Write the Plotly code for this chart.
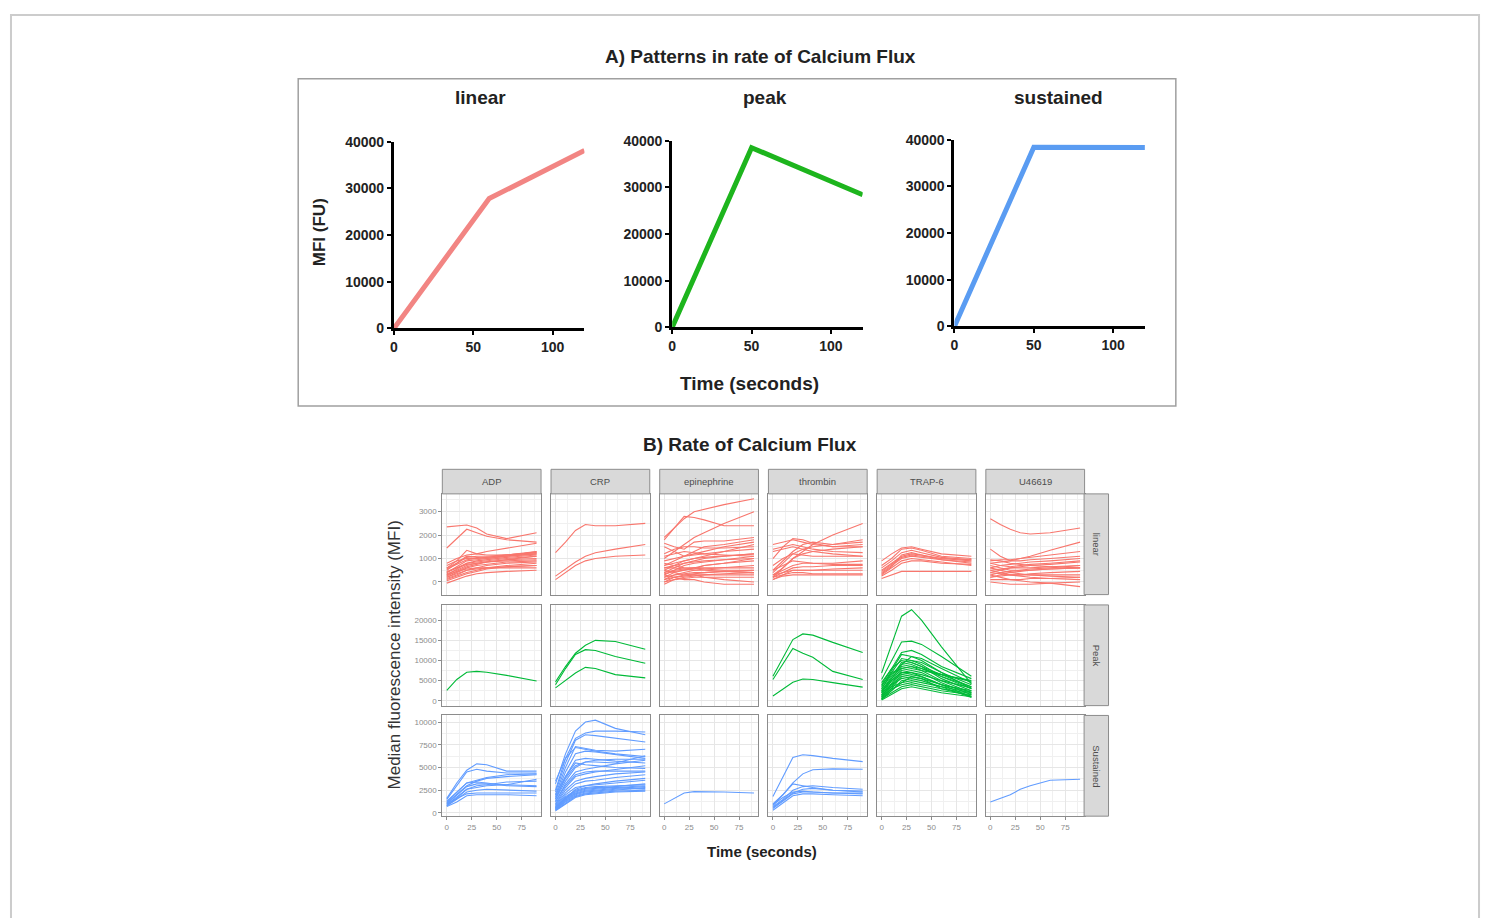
import plotly.graph_objects as go

W, H = 1485, 918

# ---------------- Panel A data ----------------
A_TITLES = ["linear", "peak", "sustained"]
A_TIME_LINEAR = [0, 60, 120]
A_MFI_LINEAR = [0, 27800, 38100]
A_TIME_PEAK = [0, 50, 120]
A_MFI_PEAK = [0, 38500, 28400]
A_TIME_SUSTAINED = [0, 50, 120]
A_MFI_SUSTAINED = [0, 38400, 38300]
A_XTICKS = [0, 50, 100]
A_YTICKS = [0, 10000, 20000, 30000, 40000]
A_COLORS = ["#F28583", "#1DB51D", "#5A9CF2"]

# ---------------- Panel B data ----------------
AGONISTS = ["ADP", "CRP", "epinephrine", "thrombin", "TRAP-6", "U46619"]
PATTERNS = ["linear", "Peak", "Sustained"]
B_COLORS = ["#F8766D", "#00BA38", "#619CFF"]
TIME_B = [0, 10, 20, 30, 40, 60, 90]
B_XTICKS = [0, 25, 50, 75]
B_YTICKS_LINEAR = [0, 1000, 2000, 3000]
B_YTICKS_PEAK = [0, 5000, 10000, 15000, 20000]
B_YTICKS_SUSTAINED = [0, 2500, 5000, 7500, 10000]

ADP_LINEAR = [
    [2350, 2380, 2430, 2300, 2050, 1850, 2100],
    [1450, 1850, 2250, 2100, 1950, 1800, 1700],
    [800, 1000, 1150, 1200, 1300, 1450, 1650],
    [600, 900, 1350, 1200, 1150, 1150, 1250],
    [500, 800, 1100, 1050, 1000, 1100, 1200],
    [400, 650, 900, 950, 1000, 1100, 1300],
    [300, 550, 800, 900, 950, 1050, 1150],
    [350, 500, 700, 800, 850, 950, 1100],
    [250, 450, 650, 750, 850, 950, 1000],
    [200, 400, 600, 700, 750, 850, 900],
    [450, 600, 750, 800, 850, 900, 950],
    [150, 300, 500, 600, 700, 800, 850],
    [100, 250, 400, 500, 600, 700, 800],
    [50, 200, 350, 450, 550, 650, 700],
    [-50, 100, 250, 350, 400, 450, 500],
    [300, 450, 550, 600, 600, 600, 600],
    [700, 900, 1000, 1000, 1050, 1100, 1200],
    [550, 750, 950, 1000, 1050, 1150, 1300],
    [400, 600, 800, 850, 900, 1000, 1100],
    [200, 350, 500, 550, 600, 650, 700],
    [600, 800, 1050, 1100, 1100, 1150, 1250],
]
CRP_LINEAR = [
    [1250, 1700, 2200, 2450, 2400, 2400, 2500],
    [250, 550, 850, 1100, 1250, 1400, 1600],
    [100, 400, 700, 900, 1000, 1100, 1150],
]
EPINEPHRINE_LINEAR = [
    [1900, 2300, 2700, 3000, 3100, 3300, 3550],
    [1800, 2300, 2800, 2750, 2650, 2400, 2400],
    [1000, 1300, 1600, 1900, 2100, 2500, 3000],
    [1650, 1500, 1400, 1700, 1750, 1750, 1900],
    [1500, 1300, 1100, 1300, 1500, 1600, 1800],
    [1200, 1400, 1500, 1500, 1450, 1450, 1500],
    [700, 900, 1100, 1200, 1300, 1500, 1700],
    [500, 700, 900, 1000, 1100, 1300, 1600],
    [400, 600, 800, 900, 1000, 1100, 1200],
    [300, 500, 700, 800, 850, 950, 1100],
    [600, 700, 800, 850, 900, 950, 1000],
    [200, 400, 500, 600, 700, 800, 900],
    [100, 300, 400, 500, 550, 600, 700],
    [0, 200, 300, 350, 400, 450, 500],
    [-100, 100, 200, 250, 300, 350, 400],
    [300, 200, 100, 100, 0, -100, -100],
    [500, 400, 300, 300, 200, 100, 0],
    [800, 700, 600, 600, 550, 500, 500],
    [400, 500, 550, 600, 600, 600, 600],
    [200, 300, 350, 400, 400, 450, 400],
    [700, 800, 900, 1000, 1050, 1100, 1200],
    [900, 1000, 1100, 1150, 1200, 1300, 1400],
    [100, 200, 250, 300, 300, 300, 300],
    [600, 600, 550, 500, 500, 450, 400],
    [350, 450, 500, 550, 700, 800, 1000],
    [0, 100, 150, 200, 200, 200, 200],
    [1100, 1200, 1300, 1250, 1200, 1150, 1100],
]
THROMBIN_LINEAR = [
    [300, 600, 1000, 1300, 1600, 2000, 2500],
    [1000, 1500, 1850, 1800, 1650, 1500, 1500],
    [1600, 1700, 1800, 1700, 1600, 1500, 1600],
    [1400, 1500, 1600, 1500, 1400, 1300, 1250],
    [500, 900, 1300, 1600, 1700, 1600, 1700],
    [400, 800, 1200, 1400, 1500, 1600, 1800],
    [200, 600, 1000, 1200, 1300, 1400, 1500],
    [300, 500, 700, 800, 800, 800, 900],
    [200, 400, 600, 650, 650, 700, 700],
    [100, 300, 500, 500, 500, 550, 600],
    [300, 400, 500, 500, 500, 500, 500],
    [200, 300, 400, 400, 350, 350, 350],
    [100, 250, 300, 300, 300, 300, 300],
    [500, 700, 900, 850, 800, 750, 750],
    [700, 1000, 1200, 1150, 1100, 1100, 1100],
    [1300, 1400, 1500, 1400, 1300, 1200, 1100],
]
TRAP6_LINEAR = [
    [900, 1200, 1450, 1500, 1400, 1200, 1100],
    [700, 1000, 1400, 1450, 1350, 1100, 1000],
    [600, 900, 1250, 1350, 1250, 1050, 950],
    [500, 800, 1100, 1200, 1150, 1000, 900],
    [400, 700, 1000, 1100, 1050, 950, 800],
    [300, 600, 900, 1000, 950, 850, 700],
    [150, 300, 450, 450, 450, 450, 450],
    [350, 650, 1150, 1250, 1150, 950, 850],
    [450, 750, 1050, 1150, 1100, 1000, 950],
    [250, 500, 800, 900, 900, 800, 750],
]
U46619_LINEAR = [
    [2700, 2450, 2250, 2100, 2050, 2100, 2300],
    [1400, 1100, 900, 1000, 1100, 1350, 1700],
    [900, 950, 950, 1000, 1050, 1150, 1300],
    [800, 850, 900, 900, 950, 1000, 1100],
    [600, 700, 750, 800, 850, 900, 1000],
    [400, 500, 600, 650, 700, 750, 850],
    [300, 400, 450, 500, 550, 600, 700],
    [700, 600, 500, 500, 500, 550, 600],
    [500, 400, 300, 300, 350, 400, 450],
    [200, 250, 300, 300, 300, 300, 300],
    [100, 100, 100, 100, 150, 150, 200],
    [0, -50, -100, -100, -100, -50, 0],
    [300, 200, 100, 50, 0, -50, -200],
    [600, 500, 400, 350, 300, 250, 200],
    [800, 700, 650, 700, 750, 800, 900],
    [500, 550, 600, 600, 600, 650, 700],
    [950, 900, 800, 750, 700, 650, 600],
    [200, 300, 400, 450, 500, 550, 600],
    [400, 350, 300, 250, 200, 150, 100],
]

ADP_PEAK = [
    [2600, 5300, 7100, 7300, 7100, 6300, 4900],
]
CRP_PEAK = [
    [4700, 8500, 11800, 13800, 15000, 14700, 12800],
    [4000, 8000, 11500, 12700, 12500, 11000, 9300],
    [3200, 5000, 6900, 8300, 8000, 6500, 5700],
]
EPINEPHRINE_PEAK = []
THROMBIN_PEAK = [
    [6100, 10500, 15200, 16600, 16300, 14500, 12000],
    [5300, 9000, 13000, 11800, 10800, 7300, 5300],
    [1200, 3000, 4600, 5400, 5300, 4500, 3400],
]
TRAP6_PEAK = [
    [6900, 14000, 21000, 22600, 20000, 13400, 4200],
    [5300, 10000, 14600, 14800, 14000, 11000, 6100],
    [4000, 8000, 12000, 12500, 11500, 8500, 5500],
    [3500, 7500, 11500, 11000, 10000, 7000, 4000],
    [3000, 7000, 10500, 10000, 9000, 6000, 3500],
    [2500, 6000, 9500, 10000, 9500, 7000, 3000],
    [2000, 5500, 9000, 9500, 8500, 5500, 2500],
    [1500, 5000, 8000, 8500, 7500, 5000, 2000],
    [1000, 4000, 7000, 7500, 7000, 4500, 1500],
    [500, 3000, 6000, 6500, 6000, 4000, 1000],
    [300, 2500, 5000, 5500, 5000, 3500, 800],
    [2000, 4000, 5500, 6000, 5500, 4000, 2500],
    [1500, 3500, 4500, 5000, 4500, 3500, 2000],
    [1000, 3000, 4000, 4500, 4000, 3000, 1800],
    [500, 2000, 3500, 4000, 3500, 2500, 1500],
    [200, 1500, 3000, 3500, 3000, 2000, 1000],
    [3000, 6500, 9000, 11000, 10500, 8000, 4500],
    [2500, 5500, 8500, 9000, 8000, 6000, 3000],
    [4500, 8000, 10000, 9500, 8500, 6500, 3500],
    [1200, 4500, 7500, 8000, 7500, 6500, 5000],
    [800, 3500, 6500, 7000, 6000, 4000, 2200],
    [2200, 5000, 7000, 7000, 6500, 5000, 3200],
    [600, 2500, 4500, 6000, 5500, 3000, 1200],
    [3800, 7000, 8000, 8500, 8000, 6500, 4800],
]
U46619_PEAK = []

ADP_SUSTAINED = [
    [1600, 3300, 4700, 5400, 5300, 4600, 4600],
    [1500, 3000, 4500, 4800, 4600, 4400, 4400],
    [1300, 2300, 3300, 3600, 3900, 4200, 4300],
    [1100, 2000, 3000, 3500, 3800, 4000, 4200],
    [1000, 2000, 2900, 3200, 3200, 3100, 3700],
    [900, 1700, 2600, 2800, 3000, 3100, 3000],
    [800, 1500, 2300, 2500, 2600, 2500, 2400],
    [700, 1200, 1900, 2000, 2000, 2000, 1900],
    [1000, 1600, 2100, 2200, 2200, 2200, 2200],
    [1200, 2200, 3300, 3400, 3300, 3000, 2900],
    [800, 1600, 2600, 3000, 3100, 3400, 3500],
]
CRP_SUSTAINED = [
    [3200, 6500, 9000, 10000, 10200, 9300, 8600],
    [2500, 6000, 8200, 8800, 9000, 9000, 8900],
    [2300, 5500, 8000, 8600, 8500, 8200, 7800],
    [2000, 5000, 7300, 7100, 6900, 6800, 7000],
    [1800, 4500, 6500, 6800, 6700, 6400, 6000],
    [1500, 4000, 5800, 6000, 5900, 5700, 5500],
    [1500, 3500, 5000, 5600, 5600, 5500, 6300],
    [1200, 3200, 4500, 4800, 5000, 5400, 5800],
    [1000, 2800, 4000, 4300, 4500, 4800, 5200],
    [900, 2500, 3500, 3800, 4000, 4300, 4500],
    [800, 2200, 3200, 3500, 3600, 3900, 4200],
    [700, 2000, 2800, 3000, 3200, 3500, 3800],
    [600, 1800, 2500, 2800, 2900, 3000, 3100],
    [500, 1500, 2200, 2500, 2600, 2800, 3000],
    [400, 1300, 2000, 2300, 2400, 2600, 2700],
    [300, 1100, 1800, 2100, 2200, 2400, 2500],
    [350, 1200, 1900, 2200, 2300, 2500, 2800],
    [450, 1400, 2100, 2400, 2500, 2700, 2900],
    [550, 1600, 2300, 2600, 2700, 2900, 3200],
    [650, 1700, 2400, 2700, 2800, 2800, 2600],
    [2000, 4000, 5500, 5300, 5200, 5000, 4900],
    [1700, 3800, 5200, 5600, 5800, 5900, 5900],
    [1300, 3000, 4200, 4500, 4600, 4600, 4600],
    [3500, 6000, 7200, 7000, 6800, 6500, 6200],
    [250, 1000, 1700, 2000, 2100, 2300, 2400],
    [500, 1600, 2600, 3000, 3100, 3300, 3600],
]
EPINEPHRINE_SUSTAINED = [
    [1000, 1600, 2200, 2350, 2350, 2300, 2200],
]
THROMBIN_SUSTAINED = [
    [1800, 4000, 6100, 6400, 6300, 6000, 5650],
    [1000, 2000, 3300, 4300, 4750, 4850, 4800],
    [800, 2000, 3200, 3000, 2800, 2500, 2300],
    [700, 1500, 2500, 2900, 3000, 2800, 2600],
    [600, 1400, 2200, 2600, 2700, 2500, 2400],
    [500, 1300, 2100, 2300, 2300, 2200, 2100],
    [300, 1100, 1900, 2100, 2100, 2000, 1900],
    [900, 1700, 2300, 2400, 2300, 2200, 2200],
]
TRAP6_SUSTAINED = []
U46619_SUSTAINED = [
    [1200, 1600, 2000, 2600, 3000, 3600, 3700],
]

B_ROWS = [
    [ADP_LINEAR, CRP_LINEAR, EPINEPHRINE_LINEAR, THROMBIN_LINEAR, TRAP6_LINEAR, U46619_LINEAR],
    [ADP_PEAK, CRP_PEAK, EPINEPHRINE_PEAK, THROMBIN_PEAK, TRAP6_PEAK, U46619_PEAK],
    [ADP_SUSTAINED, CRP_SUSTAINED, EPINEPHRINE_SUSTAINED, THROMBIN_SUSTAINED,
     TRAP6_SUSTAINED, U46619_SUSTAINED],
]
B_YTICKS = [B_YTICKS_LINEAR, B_YTICKS_PEAK, B_YTICKS_SUSTAINED]

# ---------------- layout helpers (pixel -> paper) ----------------
def px(x):
    return x / W


def py(y):
    return 1 - y / H


FONT = "Liberation Sans, Arial, Helvetica, sans-serif"

fig = go.Figure()
layout = dict(
    width=W, height=H, margin=dict(l=0, r=0, t=0, b=0, pad=0),
    paper_bgcolor="white", plot_bgcolor="white", showlegend=False,
    font=dict(family=FONT),
)
shapes = []
annotations = []

# ---------------- Panel A ----------------
A_X = [(391, 582), (670, 861), (953, 1144)]
A_Y = [(326, 136), (325, 135), (324, 134)]
A_TIMES = [A_TIME_LINEAR, A_TIME_PEAK, A_TIME_SUSTAINED]
A_VALUES = [A_MFI_LINEAR, A_MFI_PEAK, A_MFI_SUSTAINED]
A_TITLE_X = [478, 763, 1057]

for i in range(3):
    k = i + 1
    sx = "" if k == 1 else str(k)
    fig.add_trace(go.Scatter(
        x=A_TIMES[i], y=A_VALUES[i], mode="lines",
        line=dict(color=A_COLORS[i], width=5),
        xaxis="x" + sx, yaxis="y" + sx, hoverinfo="skip",
    ))
    common = dict(
        showline=True, linecolor="black", linewidth=3, showgrid=False,
        zeroline=False, ticks="outside", ticklen=4, tickwidth=2,
        tickcolor="black",
        tickfont=dict(family=FONT, size=14, color="#222222", weight="bold"),
    )
    layout["xaxis" + sx] = dict(
        domain=[px(A_X[i][0]), px(A_X[i][1])], range=[0, 120],
        anchor="y" + sx, tickmode="array", tickvals=A_XTICKS,
        ticktext=[str(v) for v in A_XTICKS], **common)
    layout["yaxis" + sx] = dict(
        domain=[py(A_Y[i][0]), py(A_Y[i][1])], range=[0, 40000],
        anchor="x" + sx, tickmode="array", tickvals=A_YTICKS,
        ticktext=[str(v) for v in A_YTICKS], **common)
    annotations.append(dict(
        x=px(A_TITLE_X[i]), y=py(91), xref="paper", yref="paper",
        text=A_TITLES[i], showarrow=False, xanchor="center", yanchor="middle",
        font=dict(family=FONT, size=19, color="#222222", weight="bold")))

annotations.append(dict(
    x=px(759), y=py(49), xref="paper", yref="paper",
    text="A) Patterns in rate of Calcium Flux", showarrow=False,
    xanchor="center", yanchor="middle",
    font=dict(family=FONT, size=19, color="#222222", weight="bold")))
annotations.append(dict(
    x=px(316), y=py(228), xref="paper", yref="paper", text="MFI (FU)",
    showarrow=False, textangle=-90, xanchor="center", yanchor="middle",
    font=dict(family=FONT, size=17, color="#222222", weight="bold")))
annotations.append(dict(
    x=px(748), y=py(382), xref="paper", yref="paper", text="Time (seconds)",
    showarrow=False, xanchor="center", yanchor="middle",
    font=dict(family=FONT, size=19, color="#222222", weight="bold")))

# frames
shapes.append(dict(type="rect", xref="paper", yref="paper",
                   x0=px(7), x1=px(1479), y0=py(940), y1=py(7),
                   line=dict(color="#CCCCCC", width=2), layer="below"))
shapes.append(dict(type="rect", xref="paper", yref="paper",
                   x0=px(295), x1=px(1175), y0=py(405), y1=py(72),
                   line=dict(color="#A0A0A0", width=1.5), layer="below"))

# ---------------- Panel B ----------------
COL_X0 = [439.5 + 109 * c for c in range(6)]
COL_W = 99
ROW_Y = [(494.5, 597), (607.5, 710), (720, 822.5)]
Y_RANGES = [[-540, 3760], [-1200, 23800], [-350, 10720]]
Y_MINOR = [[-500, 500, 1500, 2500, 3500],
           [2500, 7500, 12500, 17500, 22500],
           [1250, 3750, 6250, 8750]]
X_MINOR = [12.5, 37.5, 62.5, 87.5]
GRID = "#E6E6E6"
MINOR_GRID = "#F0F0F0"
BORDER = "#8C8C8C"
TICKTXT = "#8C8C8C"

for r in range(3):
    for c in range(6):
        k = 4 + r * 6 + c
        sx = str(k)
        panel = B_ROWS[r][c]
        if not panel:
            # empty facet: invisible placeholder so the panel is still drawn
            fig.add_trace(go.Scatter(
                x=[None], y=[None], mode="lines", showlegend=False,
                xaxis="x" + sx, yaxis="y" + sx, hoverinfo="skip",
            ))
        for series in panel:
            fig.add_trace(go.Scatter(
                x=TIME_B, y=series, mode="lines",
                line=dict(color=B_COLORS[r], width=1.1),
                xaxis="x" + sx, yaxis="y" + sx, hoverinfo="skip",
            ))
        bottom = r == 2
        left = c == 0
        layout["xaxis" + sx] = dict(
            domain=[px(COL_X0[c]), px(COL_X0[c] + COL_W)], range=[-4.5, 94.5],
            anchor="y" + sx, tickmode="array", tickvals=B_XTICKS,
            ticktext=[str(v) for v in B_XTICKS],
            showticklabels=bottom, ticks="outside" if bottom else "",
            ticklen=3, tickwidth=1, tickcolor=BORDER,
            tickfont=dict(family=FONT, size=8, color=TICKTXT),
            showgrid=True, gridcolor=GRID, gridwidth=1,
            minor=dict(tickmode="array", tickvals=X_MINOR, showgrid=True,
                       gridcolor=MINOR_GRID, gridwidth=0.8),
            showline=True, mirror=True, linecolor=BORDER, linewidth=1,
            zeroline=False)
        yt = B_YTICKS[r]
        layout["yaxis" + sx] = dict(
            domain=[py(ROW_Y[r][1]), py(ROW_Y[r][0])], range=Y_RANGES[r],
            anchor="x" + sx, tickmode="array", tickvals=yt,
            ticktext=[str(v) for v in yt],
            showticklabels=left, ticks="outside" if left else "",
            ticklen=3, tickwidth=1, tickcolor=BORDER,
            tickfont=dict(family=FONT, size=8, color=TICKTXT),
            showgrid=True, gridcolor=GRID, gridwidth=1,
            minor=dict(tickmode="array", tickvals=Y_MINOR[r], showgrid=True,
                       gridcolor=MINOR_GRID, gridwidth=0.8),
            showline=True, mirror=True, linecolor=BORDER, linewidth=1,
            zeroline=False)

# strips (top)
for c in range(6):
    shapes.append(dict(type="rect", xref="paper", yref="paper",
                       x0=px(COL_X0[c]), x1=px(COL_X0[c] + COL_W),
                       y0=py(494.5), y1=py(469.5),
                       fillcolor="#D9D9D9", line=dict(color=BORDER, width=1)))
    annotations.append(dict(
        x=px(COL_X0[c] + COL_W / 2), y=py(482), xref="paper", yref="paper",
        text=AGONISTS[c], showarrow=False, xanchor="center", yanchor="middle",
        font=dict(family=FONT, size=9.5, color="#4D4D4D")))
# strips (right)
for r in range(3):
    shapes.append(dict(type="rect", xref="paper", yref="paper",
                       x0=px(1083), x1=px(1107.5),
                       y0=py(ROW_Y[r][1]), y1=py(ROW_Y[r][0]),
                       fillcolor="#D9D9D9", line=dict(color=BORDER, width=1)))
    annotations.append(dict(
        x=px(1095.5), y=py((ROW_Y[r][0] + ROW_Y[r][1]) / 2),
        xref="paper", yref="paper", text=PATTERNS[r], showarrow=False,
        textangle=90, xanchor="center", yanchor="middle",
        font=dict(family=FONT, size=9.5, color="#4D4D4D")))

annotations.append(dict(
    x=px(748), y=py(444), xref="paper", yref="paper",
    text="B) Rate of Calcium Flux", showarrow=False,
    xanchor="center", yanchor="middle",
    font=dict(family=FONT, size=19, color="#222222", weight="bold")))
annotations.append(dict(
    x=px(392), y=py(658), xref="paper", yref="paper",
    text="Median fluorescence intensity (MFI)", showarrow=False,
    textangle=-90, xanchor="center", yanchor="middle",
    font=dict(family=FONT, size=17, color="#333333")))
annotations.append(dict(
    x=px(760), y=py(858), xref="paper", yref="paper", text="Time (seconds)",
    showarrow=False, xanchor="center", yanchor="middle",
    font=dict(family=FONT, size=15, color="#222222", weight="bold")))

layout["shapes"] = shapes
layout["annotations"] = annotations
fig.update_layout(**layout)
fig.write_html(
    "out.html",
    config={"displayModeBar": False},
    post_script=(
        "document.documentElement.style.overflow='hidden';"
        "document.body.style.overflow='hidden';"
        "document.body.style.margin='0';"
        "document.body.style.padding='0';"
    ),
)
